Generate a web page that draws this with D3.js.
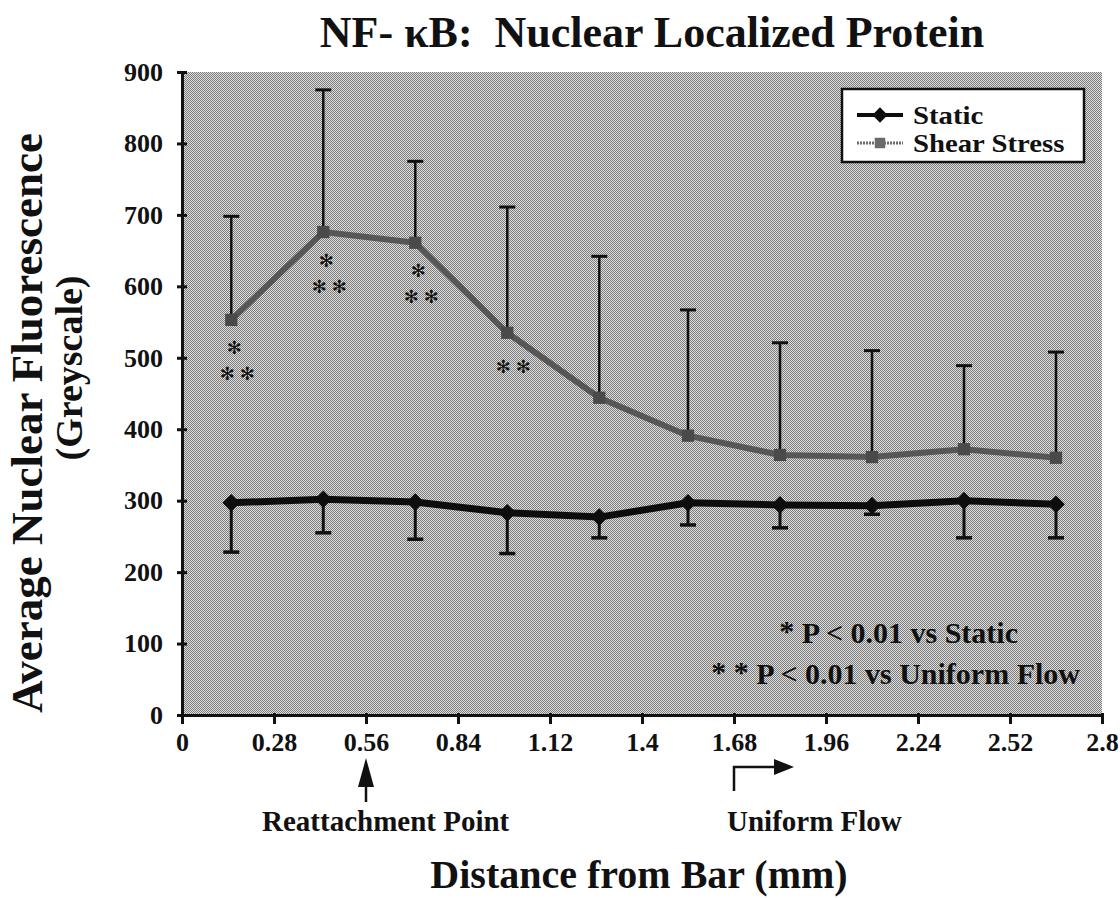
<!DOCTYPE html>
<html>
<head>
<meta charset="utf-8">
<script src="https://cdn.jsdelivr.net/npm/d3@7"></script>
<style>
  body { margin: 0; background: #ffffff; }
  text { font-family: "Liberation Serif", "Times New Roman", serif; font-weight: bold; fill: #111; }
</style>
</head>
<body>
<script>
// chart data
var distances = [0.15, 0.43, 0.71, 0.99, 1.27, 1.54, 1.82, 2.10, 2.38, 2.66];
var staticMean = [297, 302, 298, 283, 277, 297, 294, 293, 300, 295];
var staticLower = [228, 255, 246, 226, 248, 266, 262, 281, 248, 248];
var shearMean = [553, 676, 661, 535, 444, 391, 364, 361, 372, 360];
var shearUpper = [698, 875, 775, 711, 642, 567, 521, 510, 489, 508];
var sigVsStatic = [1, 1, 1, 0, 0, 0, 0, 0, 0, 0];
var sigVsUniform = [1, 1, 1, 1, 0, 0, 0, 0, 0, 0];
var xTickValues = [0, 0.28, 0.56, 0.84, 1.12, 1.4, 1.68, 1.96, 2.24, 2.52, 2.8];
var xTickLabels = ["0", "0.28", "0.56", "0.84", "1.12", "1.4", "1.68", "1.96", "2.24", "2.52", "2.8"];
var yTickValues = [0, 100, 200, 300, 400, 500, 600, 700, 800, 900];
var seriesNames = ["Static", "Shear Stress"];

var width = 1120
var height = 898
var margin = { top: 72, left: 182, right: 18, bottom: 183 }

var svg = d3.select("body").append("svg")
    .attr("width", width)
    .attr("height", height);

var xScale = d3.scaleLinear()
    .domain([0, 2.8])
    .range([margin.left, width - margin.right]);

var yScale = d3.scaleLinear()
    .domain([0, 900])
    .range([height - margin.bottom, margin.top]);

function renderBackground() {
    var pat = svg.append("defs").append("pattern")
        .attr("id", "dither")
        .attr("patternUnits", "userSpaceOnUse")
        .attr("width", 2)
        .attr("height", 2);
    pat.append("rect").attr("width", 2).attr("height", 2).attr("fill", "#dedede");
    pat.append("rect").attr("x", 0).attr("y", 0).attr("width", 1).attr("height", 1).attr("fill", "#7c7c7c");
    pat.append("rect").attr("x", 1).attr("y", 1).attr("width", 1).attr("height", 1).attr("fill", "#7c7c7c");

    svg.append("rect")
        .attr("x", xScale(0))
        .attr("y", yScale(900))
        .attr("width", xScale(2.8) - xScale(0))
        .attr("height", yScale(0) - yScale(900))
        .attr("fill", "url(#dither)");
}

function renderAxes() {
    var xAxis = d3.axisBottom(xScale)
        .tickValues(xTickValues)
        .tickFormat(function (d, i) { return xTickLabels[i]; })
        .tickSizeInner(9)
        .tickSizeOuter(0)
        .tickPadding(5);

    var gx = svg.append("g")
        .attr("class", "x-axis")
        .attr("transform", "translate(0," + yScale(0) + ")")
        .call(xAxis);

    var yAxis = d3.axisLeft(yScale)
        .tickValues(yTickValues)
        .tickSizeInner(5)
        .tickSizeOuter(0)
        .tickPadding(14);

    var gy = svg.append("g")
        .attr("class", "y-axis")
        .attr("transform", "translate(" + xScale(0) + ",0)")
        .call(yAxis);

    // ticks cross the axis line a little
    gy.selectAll(".tick line").attr("x1", 5);
    gx.selectAll(".tick line").attr("y1", -2);

    [gx, gy].forEach(function (g) {
        g.select(".domain").attr("stroke", "#111").attr("stroke-width", 3);
        g.selectAll(".tick line").attr("stroke", "#111").attr("stroke-width", 3);
        g.selectAll(".tick text")
            .style("font-family", "'Liberation Serif', serif")
            .style("font-weight", "bold")
            .style("font-size", "26px")
            .attr("fill", "#111");
    });
    gx.selectAll(".tick text").attr("dy", "0.85em");
}

function renderErrorBars() {
    var cap = 8;
    // shear stress: upward only
    var sh = svg.append("g").attr("class", "err-shear");
    distances.forEach(function (d, i) {
        sh.append("line")
            .attr("x1", xScale(d)).attr("x2", xScale(d))
            .attr("y1", yScale(shearMean[i])).attr("y2", yScale(shearUpper[i]))
            .attr("stroke", "#111").attr("stroke-width", 2.5);
        sh.append("line")
            .attr("x1", xScale(d) - cap).attr("x2", xScale(d) + cap)
            .attr("y1", yScale(shearUpper[i])).attr("y2", yScale(shearUpper[i]))
            .attr("stroke", "#111").attr("stroke-width", 3);
    });
    // static: downward only
    var st = svg.append("g").attr("class", "err-static");
    distances.forEach(function (d, i) {
        st.append("line")
            .attr("x1", xScale(d)).attr("x2", xScale(d))
            .attr("y1", yScale(staticMean[i])).attr("y2", yScale(staticLower[i]))
            .attr("stroke", "#111").attr("stroke-width", 3);
        st.append("line")
            .attr("x1", xScale(d) - cap).attr("x2", xScale(d) + cap)
            .attr("y1", yScale(staticLower[i])).attr("y2", yScale(staticLower[i]))
            .attr("stroke", "#111").attr("stroke-width", 3.5);
    });
}

function renderLines() {
    var pointLine = d3.line()
        .x(function (d, i) { return xScale(distances[i]); })
        .y(function (d) { return yScale(d); });

    svg.append("path")
        .datum(shearMean)
        .attr("fill", "none")
        .attr("stroke", "#575757")
        .attr("stroke-width", 6)
        .attr("stroke-linejoin", "round")
        .attr("d", pointLine);

    svg.selectAll(".shear-pt")
        .data(shearMean)
        .enter()
        .append("path")
        .attr("class", "shear-pt")
        .attr("d", d3.symbol().type(d3.symbolSquare).size(150))
        .attr("transform", function (d, i) { return "translate(" + xScale(distances[i]) + "," + yScale(d) + ")"; })
        .attr("fill", "#4a4a4a");

    svg.append("path")
        .datum(staticMean)
        .attr("fill", "none")
        .attr("stroke", "#0d0d0d")
        .attr("stroke-width", 7)
        .attr("stroke-linejoin", "round")
        .attr("d", pointLine);

    svg.selectAll(".static-pt")
        .data(staticMean)
        .enter()
        .append("path")
        .attr("class", "static-pt")
        .attr("d", d3.symbol().type(d3.symbolDiamond2).size(200))
        .attr("transform", function (d, i) { return "translate(" + xScale(distances[i]) + "," + yScale(d) + ")"; })
        .attr("fill", "#0d0d0d");
}

function renderStars() {
    var g = svg.append("g").attr("class", "stars");
    function star(x, y) {
        g.append("text")
            .attr("x", x).attr("y", y)
            .attr("text-anchor", "middle")
            .attr("dominant-baseline", "central")
            .style("font-family", "'DejaVu Sans', sans-serif")
            .style("font-weight", "normal")
            .style("font-size", "18px")
            .text("\u273B");
    }
    distances.forEach(function (d, i) {
        var px = xScale(d), py = yScale(shearMean[i]);
        if (sigVsStatic[i]) star(px + 3, py + 28);
        if (sigVsUniform[i]) {
            var off = sigVsStatic[i] ? 54 : 34;
            star(px - 4, py + off);
            star(px + 16, py + off);
        }
    });

    // significance key
    g.append("text")
        .attr("x", 1018).attr("y", 643)
        .attr("text-anchor", "end")
        .style("font-size", "30px")
        .html('<tspan dy="-2">*</tspan><tspan dy="2"> P &lt; 0.01 vs Static</tspan>');
    g.append("text")
        .attr("x", 1080).attr("y", 684)
        .attr("text-anchor", "end")
        .style("font-size", "30px")
        .html('<tspan dy="-2">* *</tspan><tspan dy="2"> P &lt; 0.01 vs Uniform Flow</tspan>');
}

function renderLegend() {
    var g = svg.append("g").attr("class", "legend");
    g.append("rect")
        .attr("x", 842).attr("y", 89)
        .attr("width", 242).attr("height", 73)
        .attr("fill", "#ffffff")
        .attr("stroke", "#111")
        .attr("stroke-width", 2.5);

    var rows = [
        { y: 115, color: "#0d0d0d", sym: d3.symbolDiamond2, size: 150, w: 4 },
        { y: 143, color: "#6a6a6a", sym: d3.symbolSquare, size: 110, w: 3 }
    ];
    rows.forEach(function (r, i) {
        g.append("line")
            .attr("x1", 857).attr("x2", 903)
            .attr("y1", r.y).attr("y2", r.y)
            .attr("stroke", r.color).attr("stroke-width", r.w)
            .attr("stroke-dasharray", i === 1 ? "2,1" : null);
        g.append("path")
            .attr("d", d3.symbol().type(r.sym).size(r.size))
            .attr("transform", "translate(880," + r.y + ")")
            .attr("fill", r.color);
        // slightly widened glyphs, like the scanned original
        g.append("text")
            .attr("transform", "translate(913," + (r.y + 9) + ") scale(1.15,1)")
            .style("font-size", "25px")
            .text(seriesNames[i]);
    });
}

function renderLabels() {
    svg.append("text")
        .attr("x", 652).attr("y", 47)
        .attr("text-anchor", "middle")
        .attr("xml:space", "preserve")
        .style("font-size", "44px")
        .style("white-space", "pre")
        .text("NF- \u03BAB:  Nuclear Localized Protein");

    svg.append("text")
        .attr("transform", "translate(42,423) rotate(-90)")
        .attr("text-anchor", "middle")
        .style("font-size", "45px")
        .text("Average Nuclear Fluorescence");

    svg.append("text")
        .attr("transform", "translate(82,368) rotate(-90)")
        .attr("text-anchor", "middle")
        .style("font-size", "38px")
        .text("(Greyscale)");

    svg.append("text")
        .attr("x", 639).attr("y", 888)
        .attr("text-anchor", "middle")
        .style("font-size", "40px")
        .text("Distance from Bar (mm)");

    // reattachment arrow
    var ax = xScale(0.56);
    svg.append("line")
        .attr("x1", ax).attr("x2", ax)
        .attr("y1", 785).attr("y2", 802)
        .attr("stroke", "#111").attr("stroke-width", 2.5);
    svg.append("path")
        .attr("d", "M" + ax + ",758 L" + (ax - 8) + ",787 L" + (ax + 8) + ",787 Z")
        .attr("fill", "#111");
    svg.append("text")
        .attr("x", 262).attr("y", 831)
        .style("font-size", "29px")
        .text("Reattachment Point");

    // uniform flow bent arrow
    var ux = xScale(1.68);
    svg.append("path")
        .attr("d", "M" + ux + ",791 L" + ux + ",767 L" + (ux + 44) + ",767")
        .attr("fill", "none")
        .attr("stroke", "#111").attr("stroke-width", 2.5);
    svg.append("path")
        .attr("d", "M" + (ux + 60) + ",767 L" + (ux + 40) + ",759 L" + (ux + 40) + ",775 Z")
        .attr("fill", "#111");
    svg.append("text")
        .attr("x", 727).attr("y", 831)
        .style("font-size", "29px")
        .text("Uniform Flow");
}

renderBackground();
renderErrorBars();
renderLines();
renderAxes();
renderStars();
renderLegend();
renderLabels();
</script>
</body>
</html>
